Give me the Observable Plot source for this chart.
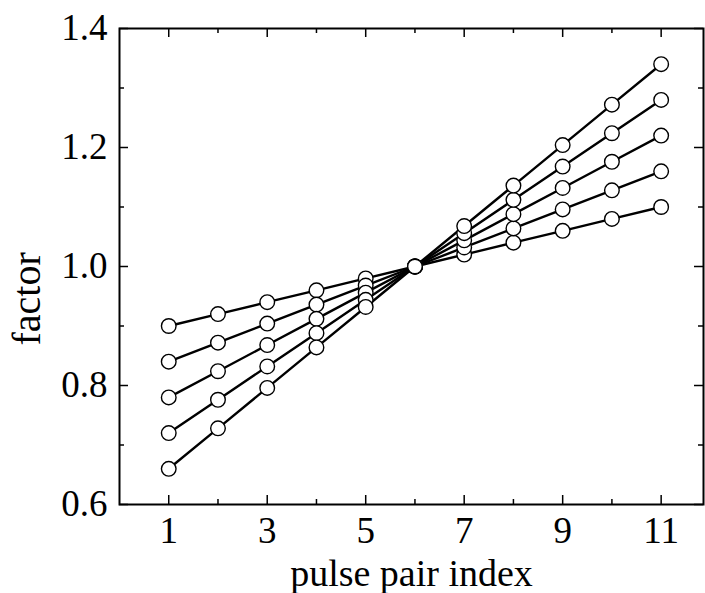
<!DOCTYPE html>
<html><head><meta charset="utf-8">
<script src="https://cdn.jsdelivr.net/npm/d3@7"></script>
<script src="https://cdn.jsdelivr.net/npm/@observablehq/plot@0.6"></script>
<style>body{margin:0;background:#fff}</style>
</head><body><div id="chart"></div>
<script>
const pulseIndex = [1, 2, 3, 4, 5, 6, 7, 8, 9, 10, 11];
const series1 = [0.90, 0.92, 0.94, 0.96, 0.98, 1.00, 1.02, 1.04, 1.06, 1.08, 1.10];
const series2 = [0.84, 0.872, 0.904, 0.936, 0.968, 1.00, 1.032, 1.064, 1.096, 1.128, 1.16];
const series3 = [0.78, 0.824, 0.868, 0.912, 0.956, 1.00, 1.044, 1.088, 1.132, 1.176, 1.22];
const series4 = [0.72, 0.776, 0.832, 0.888, 0.944, 1.00, 1.056, 1.112, 1.168, 1.224, 1.28];
const series5 = [0.66, 0.728, 0.796, 0.864, 0.932, 1.00, 1.068, 1.136, 1.204, 1.272, 1.34];
const xMajorTicks = [1, 3, 5, 7, 9, 11];
const xMinorTicks = [2, 4, 6, 8, 10];
const yMajorTicks = [0.6, 0.8, 1.0, 1.2, 1.4];
const yMinorTicks = [0.7, 0.9, 1.1, 1.3];
const xLabel = "pulse pair index";
const yLabel = "factor";

const allSeries = [series1, series2, series3, series4, series5];
const data = allSeries.flatMap((s, k) => s.map((v, i) => ({series: k, x: pulseIndex[i], y: v})));

const W = 705, H = 593;
const mL = 119, mR = 2, mT = 28, mB = 89;
const pw = W - mL - mR, ph = H - mT - mB;
const major = 9, minor = 5;
const font = "'Liberation Serif', 'Times New Roman', serif";

const chart = Plot.plot({
  width: W, height: H,
  marginLeft: mL, marginRight: mR, marginTop: mT, marginBottom: mB,
  style: {fontFamily: font, fontSize: "36px", color: "black", background: "white"},
  x: {domain: [0, 11.86], axis: null},
  y: {domain: [0.6, 1.4], axis: null},
  marks: [
    // inward ticks on all four sides
    Plot.tickX(xMajorTicks, {x: d => d, stroke: "black", strokeWidth: 1.5, insetTop: ph - major}),
    Plot.tickX(xMinorTicks, {x: d => d, stroke: "black", strokeWidth: 1.5, insetTop: ph - minor}),
    Plot.tickX(xMajorTicks, {x: d => d, stroke: "black", strokeWidth: 1.5, insetBottom: ph - major}),
    Plot.tickX(xMinorTicks, {x: d => d, stroke: "black", strokeWidth: 1.5, insetBottom: ph - minor}),
    Plot.tickY(yMajorTicks, {y: d => d, stroke: "black", strokeWidth: 1.5, insetRight: pw - major}),
    Plot.tickY(yMinorTicks, {y: d => d, stroke: "black", strokeWidth: 1.5, insetRight: pw - minor}),
    Plot.tickY(yMajorTicks, {y: d => d, stroke: "black", strokeWidth: 1.5, insetLeft: pw - major}),
    Plot.tickY(yMinorTicks, {y: d => d, stroke: "black", strokeWidth: 1.5, insetLeft: pw - minor}),
    Plot.frame({stroke: "black", strokeWidth: 2}),
    Plot.axisX(xMajorTicks, {tickSize: 0, tickPadding: 12, fontSize: 37, label: null, fill: "black"}),
    Plot.axisY(yMajorTicks, {tickSize: 0, tickPadding: 12, fontSize: 37, label: null, fill: "black", tickFormat: d => d.toFixed(1)}),
    Plot.line(data, {x: "x", y: "y", z: "series", stroke: "black", strokeWidth: 2.4}),
    Plot.dot(data, {x: "x", y: "y", r: 7.3, fill: "white", stroke: "black", strokeWidth: 1.4}),
    Plot.text([xLabel], {text: d => d, frameAnchor: "bottom", dy: 69, lineAnchor: "middle", fontSize: 38, fill: "black"}),
    Plot.text([yLabel], {text: d => d, frameAnchor: "left", dx: -92, dy: 79, rotate: -90, lineAnchor: "middle", fontSize: 40, fill: "black"})
  ]
});
document.getElementById("chart").appendChild(chart);
</script>
</body></html>
